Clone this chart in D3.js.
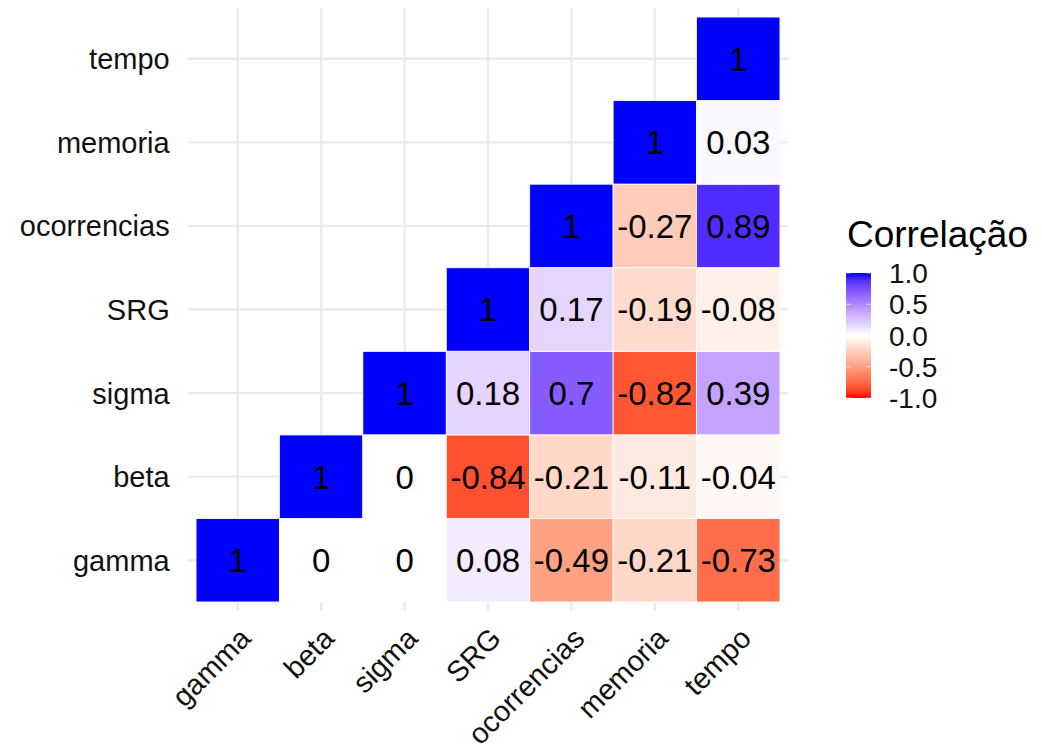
<!DOCTYPE html>
<html>
<head>
<meta charset="utf-8">
<script src="https://cdn.jsdelivr.net/npm/d3@7"></script>
<style>
  html, body { margin: 0; padding: 0; background: #fff; }
  svg { display: block; font-family: "Liberation Sans", Arial, Helvetica, sans-serif; }
</style>
</head>
<body>
<svg id="chart" width="1042" height="749"></svg>
<script>
// Variables, in axis order (bottom-to-top on y, left-to-right on x)
const variables = ["gamma", "beta", "sigma", "SRG", "ocorrencias", "memoria", "tempo"];

// Upper-triangle correlations; each row starts at its own diagonal cell
const rowGamma       = [1, 0, 0, 0.08, -0.49, -0.21, -0.73];
const rowBeta        = [1, 0, -0.84, -0.21, -0.11, -0.04];
const rowSigma       = [1, 0.18, 0.7, -0.82, 0.39];
const rowSRG         = [1, 0.17, -0.19, -0.08];
const rowOcorrencias = [1, -0.27, 0.89];
const rowMemoria     = [1, 0.03];
const rowTempo       = [1];

const legendTitle = "Correlação";
const legendTicks = [1.0, 0.5, 0.0, -0.5, -1.0];

const rows = [rowGamma, rowBeta, rowSigma, rowSRG, rowOcorrencias, rowMemoria, rowTempo];
const cells = [];
rows.forEach((vals, i) => {
  vals.forEach((v, k) => {
    cells.push({ y: variables[i], x: variables[i + k], value: v });
  });
});

const svg = d3.select("#chart");

// Panel extents
const panel = { left: 187.7, right: 788.3, top: 8.6, bottom: 610.4 };

const x = d3.scalePoint().domain(variables).range([panel.left, panel.right]).padding(0.6);
const y = d3.scalePoint().domain(variables).range([panel.bottom, panel.top]).padding(0.6);
const step = x.step();

const color = d3.scaleLinear()
  .domain([-1, 0, 1])
  .range(["#ff0000", "#ffffff", "#0000ff"])
  .interpolate(d3.interpolateLab)
  .clamp(true);

// Grid lines
const grid = svg.append("g").attr("stroke", "#ebebeb").attr("stroke-width", 2.4);
grid.selectAll("line.h").data(variables).join("line")
  .attr("x1", panel.left).attr("x2", panel.right)
  .attr("y1", d => y(d)).attr("y2", d => y(d));
grid.selectAll("line.v").data(variables).join("line")
  .attr("y1", panel.top).attr("y2", panel.bottom)
  .attr("x1", d => x(d)).attr("x2", d => x(d));

// Tiles
svg.append("g").selectAll("rect").data(cells).join("rect")
  .attr("x", d => x(d.x) - step / 2)
  .attr("y", d => y(d.y) - step / 2)
  .attr("width", step)
  .attr("height", step)
  .attr("fill", d => color(d.value))
  .attr("stroke", "#ffffff")
  .attr("stroke-width", 0.8);

// Cell values
svg.append("g").selectAll("text").data(cells).join("text")
  .attr("x", d => x(d.x))
  .attr("y", d => y(d.y))
  .attr("dy", "0.36em")
  .attr("text-anchor", "middle")
  .attr("font-size", 33)
  .attr("fill", "#000")
  .text(d => String(d.value));

// Y axis labels
svg.append("g").selectAll("text").data(variables).join("text")
  .attr("x", panel.left - 18)
  .attr("y", d => y(d))
  .attr("dy", "0.36em")
  .attr("text-anchor", "end")
  .attr("font-size", 29)
  .attr("fill", "#111")
  .text(d => d);

// X axis labels, rotated 45 degrees
svg.append("g").selectAll("text").data(variables).join("text")
  .attr("transform", d => `translate(${x(d)},${panel.bottom + 15}) rotate(-45)`)
  .attr("dy", "0.72em")
  .attr("text-anchor", "end")
  .attr("font-size", 29)
  .attr("fill", "#111")
  .text(d => d);

// Legend
const legend = { x: 846, top: 273, bottom: 398, width: 25 };
const ly = d3.scaleLinear().domain([-1, 1]).range([legend.bottom, legend.top]);

const defs = svg.append("defs");
const grad = defs.append("linearGradient").attr("id", "legendGrad")
  .attr("x1", 0).attr("y1", 1).attr("x2", 0).attr("y2", 0);
d3.range(0, 1.0001, 0.05).forEach(t => {
  grad.append("stop").attr("offset", t).attr("stop-color", color(-1 + 2 * t));
});

svg.append("text")
  .attr("x", legend.x + 1)
  .attr("y", 247)
  .attr("font-size", 37)
  .attr("fill", "#000")
  .text(legendTitle);

svg.append("rect")
  .attr("x", legend.x).attr("y", legend.top)
  .attr("width", legend.width).attr("height", legend.bottom - legend.top)
  .attr("fill", "url(#legendGrad)");

const tickG = svg.append("g").attr("stroke", "#ffffff").attr("stroke-width", 1).attr("stroke-opacity", 0.6);
legendTicks.forEach(v => {
  tickG.append("line").attr("x1", legend.x).attr("x2", legend.x + 5).attr("y1", ly(v)).attr("y2", ly(v));
  tickG.append("line").attr("x1", legend.x + legend.width - 5).attr("x2", legend.x + legend.width).attr("y1", ly(v)).attr("y2", ly(v));
});

svg.append("g").selectAll("text").data(legendTicks).join("text")
  .attr("x", 889)
  .attr("y", d => ly(d))
  .attr("dy", "0.36em")
  .attr("font-size", 28)
  .attr("fill", "#111")
  .text(d => d3.format(".1f")(d).replace("−", "-"));
</script>
</body>
</html>
